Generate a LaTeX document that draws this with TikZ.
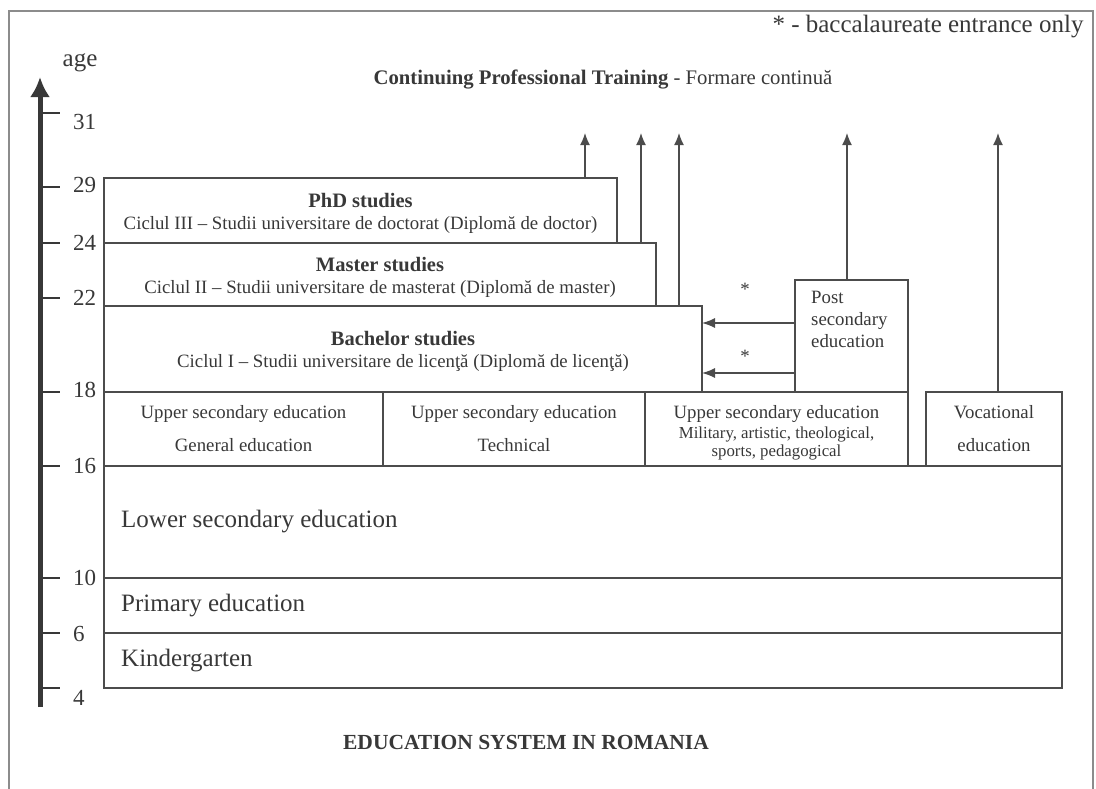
\documentclass[tikz,border=0pt]{standalone}
\usepackage{fontspec}
\setmainfont{Liberation Serif}
\usepackage{xcolor}
\usetikzlibrary{arrows.meta,positioning}

\definecolor{lineGray}{gray}{0.30}
\definecolor{textGray}{gray}{0.22}
\definecolor{frameGray}{gray}{0.55}

\newcommand{\ageFont}{\fontsize{23}{27}\selectfont}
\newcommand{\bigFont}{\fontsize{25}{30}\selectfont}
\newcommand{\boxFont}{\fontsize{18.8}{22}\selectfont}
\newcommand{\cyFont}{\fontsize{18.8}{22}\selectfont}
\newcommand{\milFont}{\fontsize{16.8}{18}\selectfont}
\newcommand{\headFont}{\fontsize{20.5}{22}\selectfont\bfseries}

\begin{document}
\begin{tikzpicture}[x=1pt,y=-1pt]

\tikzset{eduBox/.style={draw=lineGray, line width=1.4pt, inner sep=0pt, outer sep=0pt, align=center, text=textGray, anchor=north west},
eduText/.style={text=textGray, inner sep=0pt},
upArrow/.style={draw=lineGray, line width=1.4pt, -{Latex[length=12pt,width=10pt]}},
sideArrow/.style={draw=lineGray, line width=1.4pt, -{Latex[length=13pt,width=10pt]}},
tickLine/.style={draw=textGray, line width=1.6pt},
axisLine/.style={draw=textGray, line width=5pt, -{Latex[length=20pt,width=20pt]}}}

\useasboundingbox (0,0) rectangle (1096,788);

%page frame
\draw[frameGray, line width=1.2pt] (9,800) -- (9,11) -- (1093,11) -- (1093,800);

%age axis
\coordinate (axisBot) at (40,707);
\coordinate (axisTop) at (40,77);
\draw[axisLine] (axisBot) -- (axisTop);
\node[eduText, font=\bigFont] (ageHead) at (80,63) {age};

\foreach \a/\t/\l in {31/113/122, 29/187/185, 24/243/243, 22/298/298, 18/392/390, 16/466/466, 10/578/578, 6/633/634, 4/688/698}
{
  \draw[tickLine] (42,\t) -- (60,\t);
  \node[eduText, font=\ageFont, anchor=west] (age\a) at (73,\l) {\a};
}

%university
\node[eduBox, minimum width=513pt, minimum height=65pt] (phd) at (104,178) {};
\node[eduBox, minimum width=552pt, minimum height=63pt] (master) at (104,243) {};
\node[eduBox, minimum width=598pt, minimum height=86pt] (bach) at (104,306) {};
\node[eduText, font=\cyFont, align=center] (phdText) at ([yshift=-3pt]phd.center)
  {{\headFont PhD studies}\\ Ciclul III -- Studii universitare de doctorat (Diplomă de doctor)};
\node[eduText, font=\cyFont, align=center] (masterText) at ([yshift=-3pt]master.center)
  {{\headFont Master studies}\\ Ciclul II -- Studii universitare de masterat (Diplomă de master)};
\node[eduText, font=\cyFont, align=center] (bachText) at ([yshift=-2pt]bach.center)
  {{\headFont Bachelor studies}\\ Ciclul I -- Studii universitare de licenţă (Diplomă de licenţă)};

\node[eduBox, minimum width=113pt, minimum height=112pt] (post) at (795,280) {};
\node[eduText, font=\boxFont, align=left, below right=11pt and 16pt of post.north west] (postText)
  {Post\\secondary\\education};

%upper secondary
\node[eduBox, font=\boxFont, minimum width=279pt, minimum height=74pt] (general) at (104,392)
  {Upper secondary education\\[11pt]General education};
\node[eduBox, font=\boxFont, minimum width=262pt, minimum height=74pt] (tech) at (383,392)
  {Upper secondary education\\[11pt]Technical};
\node[eduBox, minimum width=263pt, minimum height=74pt] (mil) at (645,392) {};
\node[eduText, font=\milFont, align=center] (milText) at ([yshift=-4pt]mil.center)
  {{\boxFont Upper secondary education}\\[2pt]Military, artistic, theological,\\ sports, pedagogical};
\node[eduBox, font=\boxFont, minimum width=136pt, minimum height=74pt] (voc) at (926,392)
  {Vocational\\[11pt]education};

%compulsory
\node[eduBox, minimum width=958pt, minimum height=112pt] (lower) at (104,466) {};
\node[eduBox, minimum width=958pt, minimum height=55pt] (primary) at (104,578) {};
\node[eduBox, minimum width=958pt, minimum height=55pt] (kinder) at (104,633) {};

\node[eduText, font=\bigFont, right=17pt of lower.west] (lowerText) {Lower secondary education};
\node[eduText, font=\bigFont, right=17pt of primary.west] (primaryText) {Primary education};
\node[eduText, font=\bigFont, right=17pt of kinder.west] (kinderText) {Kindergarten};

%exits to continuing training
\foreach \x/\b [count=\i] in {585/phd, 641/master, 679/bach, 847/post, 998/voc}
{
  \coordinate (tip\i) at (\x,133);
  \draw[upArrow] (tip\i |- \b.north) -- (tip\i);
}

%post secondary to bachelor
\foreach \y [count=\i] in {323,373}
{
  \coordinate (lvl\i) at (750,\y);
  \draw[sideArrow] (post.west |- lvl\i) -- (bach.east |- lvl\i);
}
\node[eduText, font=\boxFont] (star1) at (745,289) {*};
\node[eduText, font=\boxFont] (star2) at (745,356) {*};

%texts
\node[eduText, font=\fontsize{20.7}{24}\selectfont] (cpt) at (603,79)
  {\textbf{Continuing Professional Training} - Formare continuă};
\node[eduText, font=\bigFont] (note) at (928,27) {* - baccalaureate entrance only};
\node[eduText, font=\fontsize{21.5}{25}\selectfont\bfseries] (title) at (526,742) {EDUCATION SYSTEM IN ROMANIA};

\end{tikzpicture}
\end{document}
